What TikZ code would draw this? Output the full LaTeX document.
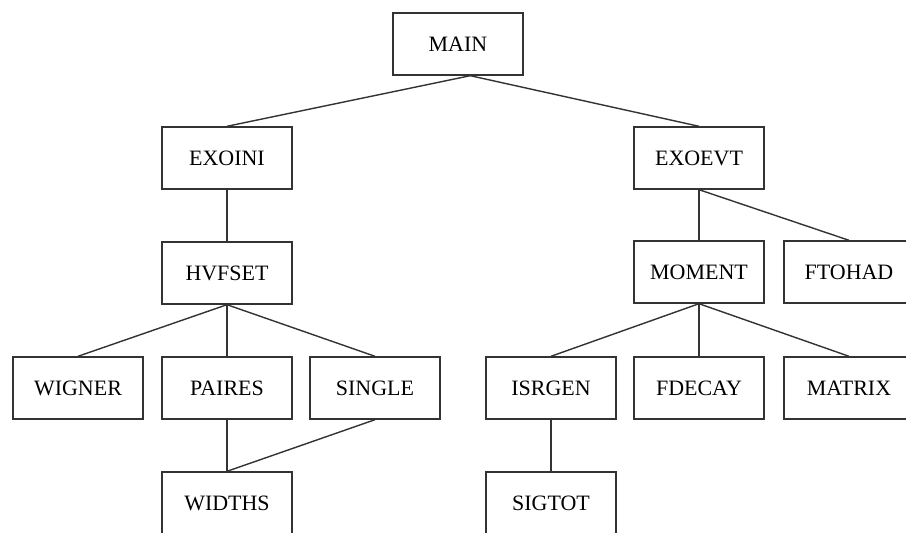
\documentclass[tikz,border=0pt]{standalone}
\usepackage{fontspec}
\setmainfont{Liberation Serif}
\usepackage{xcolor}
\definecolor{inkgray}{rgb}{0.2, 0.2, 0.2}

\tikzset{
    routine/.style={draw=inkgray, line width=0.8pt, minimum width=2.6cm, minimum height=1.24cm,
        inner sep=0, text=black, font=\fontsize{12.5}{15}\selectfont},
    link/.style={draw=inkgray, line width=0.8pt}
}

\begin{document}
\begin{tikzpicture}[x=0.02cm,y=-0.02cm]
        \useasboundingbox (0,0) rectangle (906,533);
        \clip (0,0) rectangle (906,533);

        % calling tree
        \node[routine] (main) at (458,44) {MAIN};

        \node[routine] (exoini) at (227,158) {EXOINI};
        \node[routine] (exoevt) at (699,158) {EXOEVT};

        \node[routine] (hvfset) at (227,273) {HVFSET};
        \node[routine] (moment) at (699,272) {MOMENT};
        \node[routine] (ftohad) at (849,272) {FTOHAD};

        \foreach \name/\lbl/\x in {wigner/WIGNER/78, paires/PAIRES/227, single/SINGLE/375,
                                   isrgen/ISRGEN/551, fdecay/FDECAY/699, matrix/MATRIX/849}{
            \node[routine] (\name) at (\x,388) {\lbl};
        }

        \node[routine] (widths) at (227,503) {WIDTHS};
        \node[routine] (sigtot) at (551,503) {SIGTOT};

        \draw[link] ([xshift=7]main.south) -- (exoini.north);
        \draw[link] ([xshift=7]main.south) -- (exoevt.north);
        \draw[link] (exoini) -- (hvfset);
        \draw[link] (exoevt.south) -- (moment.north);
        \draw[link] (exoevt.south) -- (ftohad.north);

        \foreach \kid in {wigner,paires,single}{
            \draw[link] (hvfset.south) -- (\kid.north);
        }
        \foreach \kid in {isrgen,fdecay,matrix}{
            \draw[link] (moment.south) -- (\kid.north);
        }

        \draw[link] (paires.south) -- (widths.north);
        \draw[link] (single.south) -- (widths.north);
        \draw[link] (isrgen.south) -- (sigtot.north);

    \end{tikzpicture}
\end{document}
